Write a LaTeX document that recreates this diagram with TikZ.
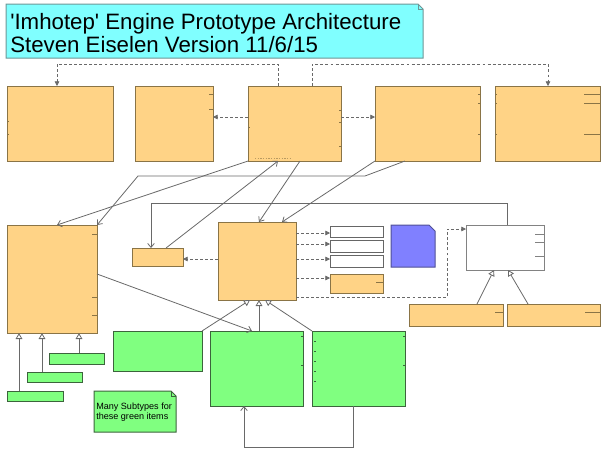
\documentclass[tikz,border=0pt]{standalone}
\usepackage{fontspec}
\setmainfont{Liberation Sans}
\usetikzlibrary{arrows.meta,calc}
\definecolor{ofill}{RGB}{255,211,134}
\definecolor{oline}{RGB}{138,116,70}
\definecolor{gfill}{RGB}{128,255,128}
\definecolor{gline}{RGB}{60,100,60}
\definecolor{bfill}{RGB}{128,128,255}
\definecolor{bline}{RGB}{80,80,150}
\definecolor{cfill}{RGB}{128,255,255}
\definecolor{cline}{RGB}{110,150,150}
\definecolor{wline}{RGB}{130,130,130}
\definecolor{conn}{RGB}{105,105,105}
\newcommand{\bx}[6]{\node[#6, minimum width={(#4-#2)*0.75pt}, minimum height={(#5-#3)*0.75pt}] (#1) at ({(#2+#4)/2},{(#3+#5)/2}) {};}
\tikzset{
  base/.style={rectangle, inner sep=0pt, outer sep=0pt, line width=0.75pt},
  obox/.style={base, draw=oline, fill=ofill},
  gbox/.style={base, draw=gline, fill=gfill},
  wbox/.style={base, draw=wline, fill=white},
  wsmall/.style={base, draw=black!60, fill=white},
  ghost/.style={base, draw=none, fill=none},
  assoc/.style={draw=conn, line width=0.6pt, -{Straight Barb[length=3pt,width=5pt]}},
  inh/.style={draw=conn, line width=0.6pt, -{Triangle[open,length=4.5pt,width=5pt,fill=white]}},
  dep/.style={draw=conn, line width=0.6pt, dash pattern=on 2.2pt off 1.6pt, -{Triangle[length=3.5pt,width=3.5pt]}},
  tick/.style={draw=oline, line width=0.6pt},
  gtick/.style={draw=gline, line width=0.5pt},
}
\begin{document}
\begin{tikzpicture}[x=0.75pt,y=-0.75pt]
\useasboundingbox (0,0) rectangle (608,462);
% title note
\bx{T}{6}{4}{423}{58}{ghost}
\draw[line width=0.75pt, draw=cline, fill=cfill] (T.north west) -- ($(T.north east)+(-5,0)$) -- ($(T.north east)+(0,5)$) -- (T.south east) -- (T.south west) -- cycle;
\draw[line width=0.5pt, draw=cline] ($(T.north east)+(-5,0)$) -- ($(T.north east)+(-5,5)$) -- ($(T.north east)+(0,5)$);
\node[anchor=base west, inner sep=0pt, font=\fontsize{16.7}{19}\selectfont] (ttl1) at (10,29.5) {\textquotesingle Imhotep\textquotesingle{} Engine Prototype Architecture};
\node[anchor=base west, inner sep=0pt, font=\fontsize{16.7}{19}\selectfont] (ttl2) at (10,52) {Steven Eiselen Version 11/6/15};
% top row
\bx{B1}{7}{86}{113}{161}{obox}
\bx{B2}{135}{86}{213}{161}{obox}
\bx{B3}{248}{86}{341}{161}{obox}
\bx{B4}{375}{86}{480}{161}{obox}
\bx{B5}{495}{86}{600}{161}{obox}
% middle
\bx{L}{7}{225}{97}{333}{obox}
\bx{S}{132}{248}{183}{266}{obox}
\bx{M}{218}{222}{296}{300}{obox}
\bx{W1}{330}{226}{383}{237}{wsmall}
\bx{W2}{330}{240}{383}{252}{wsmall}
\bx{W3}{330}{255}{383}{267}{wsmall}
\bx{O}{330}{274}{383}{293}{obox}
\bx{N}{391}{225}{435}{267}{ghost}
\draw[line width=0.75pt, draw=bline, fill=bfill] (N.north west) -- ($(N.north east)+(-6,0)$) -- ($(N.north east)+(0,6)$) -- (N.south east) -- (N.south west) -- cycle;
\bx{W}{466}{225}{544}{270}{wbox}
\bx{R1}{409}{304}{503}{326}{obox}
\bx{R2}{507}{304}{600}{326}{obox}
% bottom
\bx{G1}{113}{331}{202}{371}{gbox}
\bx{G2}{210}{331}{303}{406}{gbox}
\bx{G3}{312}{331}{405}{406}{gbox}
\bx{Sg1}{49}{353}{104}{364}{gbox}
\bx{Sg2}{27}{372}{82}{382}{gbox}
\bx{Sg3}{7}{391}{63}{401}{gbox}
\bx{GN}{94}{391}{176}{432}{ghost}
\draw[line width=0.75pt, draw=gline, fill=gfill] (GN.north west) -- ($(GN.north east)+(-5,0)$) -- ($(GN.north east)+(0,5)$) -- (GN.south east) -- (GN.south west) -- cycle;
\draw[line width=0.5pt, draw=gline] ($(GN.north east)+(-5,0)$) -- ($(GN.north east)+(-5,5)$) -- ($(GN.north east)+(0,5)$);
\node[anchor=base west, inner sep=0pt, font=\fontsize{6.8}{8}\selectfont] (gn1) at ($(GN.north west)+(2,18.5)$) {Many Subtypes for};
\node[anchor=base west, inner sep=0pt, font=\fontsize{6.8}{8}\selectfont] (gn2) at ($(GN.north west)+(2,28.5)$) {these green items};
% tick marks
\draw[tick] ($(B5.north east)+(-16,8)$) -- ++(16,0);
\draw[tick] ($(B5.north east)+(-16,17)$) -- ++(16,0);
\draw[tick] ($(B5.north east)+(-16,48)$) -- ++(16,0);
\draw[tick] ($(B5.north west)+(0,8)$) -- ++(2,0);
\draw[tick] ($(B5.north west)+(0,17)$) -- ++(2,0);
\draw[tick] ($(B5.north west)+(0,48)$) -- ++(2,0);
\draw[tick] ($(B4.north east)+(-2,8)$) -- ++(2,0);
\draw[tick] ($(B4.north east)+(-2,17)$) -- ++(2,0);
\draw[tick] ($(B4.north east)+(-2,48)$) -- ++(2,0);
\draw[tick] ($(B2.north east)+(-4,8)$) -- ++(4,0);
\draw[tick] ($(B2.north east)+(-4,23)$) -- ++(4,0);
\draw[tick] ($(B1.north west)+(0,35)$) -- ++(2,0);
\draw[tick] ($(B1.north west)+(0,48)$) -- ++(2,0);
\draw[tick] ($(B3.north east)+(-2,24)$) -- ++(2,0);
\draw[tick] ($(B3.north east)+(-2,36)$) -- ++(2,0);
\draw[tick] ($(B3.north east)+(-2,60)$) -- ++(2,0);
\draw[tick] ($(B3.north west)+(0,41)$) -- ++(2,0);
\draw[draw=oline!60!ofill, line width=0.4pt, dash pattern=on 1pt off 1pt] ($(B3.south west)+(7,-3)$) -- ++(35,0);
\draw[tick] ($(L.north east)+(-5,9)$) -- ++(5,0);
\draw[tick] ($(L.north east)+(-5,72)$) -- ++(5,0);
\draw[tick] ($(L.north east)+(-5,90)$) -- ++(5,0);
\draw[tick] ($(O.north east)+(-7,8)$) -- ++(7,0);
\draw[tick] ($(R1.north east)+(-8,8)$) -- ++(8,0);
\draw[tick] ($(R2.north east)+(-15,8)$) -- ++(15,0);
\draw[draw=wline, line width=0.6pt] ($(W.north east)+(-9,9)$) -- ++(9,0);
\draw[draw=wline, line width=0.6pt] ($(W.north east)+(-9,17)$) -- ++(9,0);
\draw[draw=wline, line width=0.6pt] ($(W.north east)+(-9,31)$) -- ++(9,0);
\draw[gtick] ($(G3.north west)+(2,10)$) -- ++(2,0);
\draw[gtick] ($(G3.north west)+(2,20)$) -- ++(2,0);
\draw[gtick] ($(G3.north west)+(2,30)$) -- ++(2,0);
\draw[gtick] ($(G3.north west)+(2,40)$) -- ++(2,0);
\draw[gtick] ($(G3.north west)+(2,50)$) -- ++(2,0);
\draw[gtick] ($(G3.north east)+(-2,5)$) -- ++(2,0);
\draw[gtick] ($(G3.north east)+(-2,34)$) -- ++(2,0);
\draw[gtick] ($(G2.north east)+(-2,5)$) -- ++(2,0);
\draw[gtick] ($(G2.north east)+(-2,34)$) -- ++(2,0);
% dependencies (dashed)
\draw[dep] ($(B3.north west)+(30,0)$) -- ++(0,-22) -| ($(B1.north west)+(50,0)$);
\draw[dep] ($(B3.north west)+(64,0)$) -- ++(0,-22) -| ($(B5.north west)+(53,0)$);
\draw[dep] ($(B3.north west)+(0,31)$) -- ($(B2.north east)+(0,31)$);
\draw[dep] ($(B3.north east)+(0,31)$) -- ($(B4.north west)+(0,31)$);
\draw[dep] ($(M.north west)+(0,37)$) -- ($(S.north east)+(0,11)$);
\draw[dep] ($(M.north east)+(0,11)$) -- ($(W1.north west)+(0,7)$);
\draw[dep] ($(M.north east)+(0,22)$) -- ($(W2.north west)+(0,4)$);
\draw[dep] ($(M.north east)+(0,37)$) -- ($(W3.north west)+(0,4)$);
\draw[dep] ($(M.north east)+(0,56)$) -- ($(O.north west)+(0,4)$);
\draw[dep] ($(M.north east)+(0,75)$) -- ++(151,0) |- ($(W.north west)+(0,4)$);
% associations
\draw[assoc] (B3.south west) -- ($(L.north west)+(50,0)$);
\draw[assoc] ($(S.north west)+(34,0)$) -- ($(B3.south west)+(30,0)$);
\draw[assoc] ($(B3.south west)+(52,0)$) -- ($(M.north west)+(41,0)$);
\draw[assoc] (B4.south west) -- ($(M.north west)+(64,0)$);
\draw[assoc] ($(B4.south west)+(30,0)$) -- ++(-40,15) -- ++(-227,0) -- (L.north east);
\draw[assoc] ($(W.north west)+(41,0)$) -- ++(0,-22) -| ($(S.north west)+(19,0)$);
\draw[assoc] ($(L.north east)+(0,49)$) -- ($(G2.north west)+(42,0)$);
\draw[assoc] ($(G3.south west)+(41,0)$) -- ++(0,41) -| ($(G2.south west)+(34,0)$);
% inheritance
\draw[inh] (G1.north east) -- ($(M.south west)+(32,0)$);
\draw[inh] ($(G2.north west)+(49,0)$) -- ($(M.south west)+(41,0)$);
\draw[inh] (G3.north west) -- ($(M.south west)+(47,0)$);
\draw[inh] ($(R1.north west)+(68,0)$) -- ($(W.south west)+(28,0)$);
\draw[inh] ($(R2.north west)+(21,0)$) -- ($(W.south west)+(42,0)$);
\draw[inh] ($(Sg1.north west)+(30,0)$) -- ($(L.south west)+(72,0)$);
\draw[inh] ($(Sg2.north west)+(15,0)$) -- ($(L.south west)+(35,0)$);
\draw[inh] ($(Sg3.north west)+(12,0)$) -- ($(L.south west)+(12,0)$);
\end{tikzpicture}
\end{document}
